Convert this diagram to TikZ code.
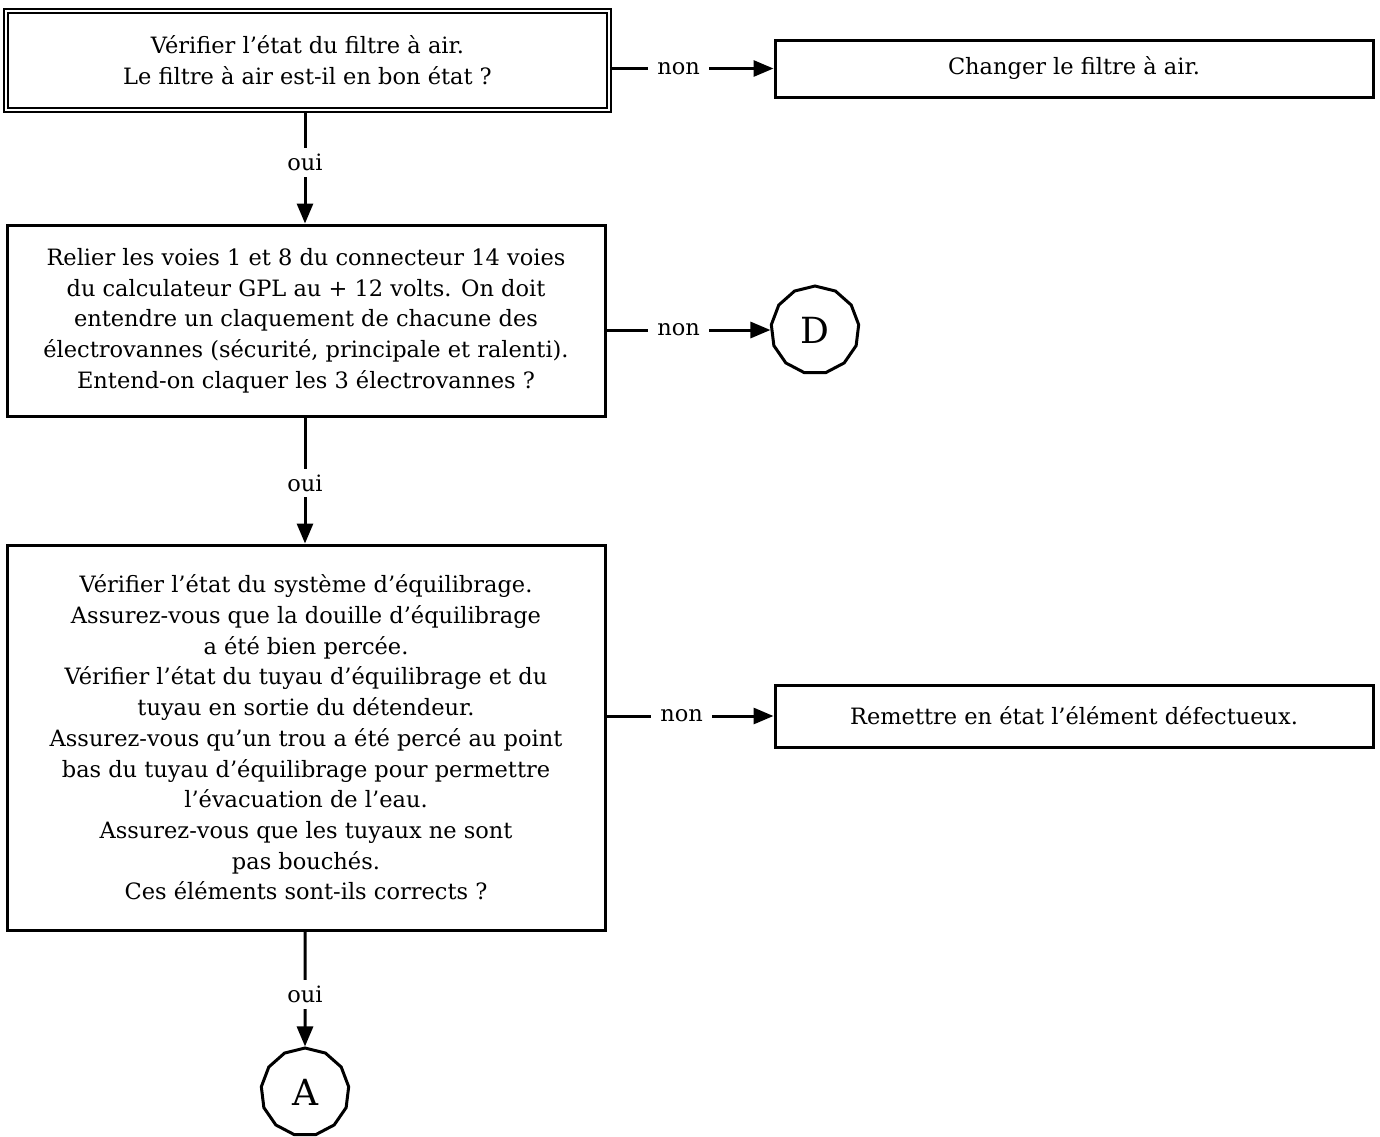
\documentclass[tikz,border=0pt]{standalone}
\usepackage{fontspec}
\setmainfont{DejaVu Serif}
\usetikzlibrary{arrows.meta,shapes.geometric}
\begin{document}
\begin{tikzpicture}[x=1pt,y=-1pt,
  every node/.style={font=\fontsize{22.5}{30.7}\selectfont},
  box/.style={draw,line width=3pt,rectangle,align=center,inner sep=0pt},
  conn/.style={draw,line width=3pt},
  arr/.style={conn,-{Triangle[length=20pt,width=16pt]}},
  lab/.style={fill=white,inner xsep=9pt,inner ysep=6pt},
  term/.style={draw,line width=3pt,regular polygon,regular polygon sides=13,minimum size=88pt,inner sep=0pt,font=\fontsize{36}{40}\selectfont}
]
\useasboundingbox (0,0) rectangle (1380,1136);
\node[box,double,line width=1.9pt,double distance=2.2pt,minimum width=603pt,minimum height=99pt] (b1) at (307.5,60.5)
  {Vérifier l’état du filtre à air.\\Le filtre à air est-il en bon état ?};
\node[box,minimum width=598pt,minimum height=57pt] (r1) at (1074,68.5) {Changer le filtre à air.};
\node[box,minimum width=598pt,minimum height=191pt] (b2) at (306,320.5)
  {Relier les voies 1 et 8 du connecteur 14 voies\\du calculateur GPL au + 12 volts. On doit\\entendre un claquement de chacune des\\électrovannes (sécurité, principale et ralenti).\\Entend-on claquer les 3 électrovannes ?};
\node[term] (d) at (815,330) {D};
\node[box,minimum width=598pt,minimum height=385pt] (b3) at (306,737.5)
  {Vérifier l’état du système d’équilibrage.\\Assurez-vous que la douille d’équilibrage\\a été bien percée.\\Vérifier l’état du tuyau d’équilibrage et du\\tuyau en sortie du détendeur.\\Assurez-vous qu’un trou a été percé au point\\bas du tuyau d’équilibrage pour permettre\\l’évacuation de l’eau.\\Assurez-vous que les tuyaux ne sont\\pas bouchés.\\Ces éléments sont-ils corrects ?};
\node[box,minimum width=598pt,minimum height=62pt] (r3) at (1074,716) {Remettre en état l’élément défectueux.};
\node[term] (a) at (305,1092) {A};
\coordinate (b1s) at (305,113);
\draw[arr] (r1.west -| b1.east) -- node[lab,pos=0.42]{non} (r1.west);
\draw[arr] (b1s) -- node[lab,pos=0.45]{oui} (b2.north -| b1s);
\draw[arr] (d.west -| b2.east) -- node[lab,pos=0.44]{non} (d.west);
\draw[arr] (b2.south -| b1s) -- node[lab,pos=0.52]{oui} (b3.north -| b1s);
\draw[arr] (r3.west -| b3.east) -- node[lab,pos=0.45]{non} (r3.west);
\draw[arr] (b3.south -| b1s) -- node[lab,pos=0.55]{oui} (a.north);
\end{tikzpicture}
\end{document}
